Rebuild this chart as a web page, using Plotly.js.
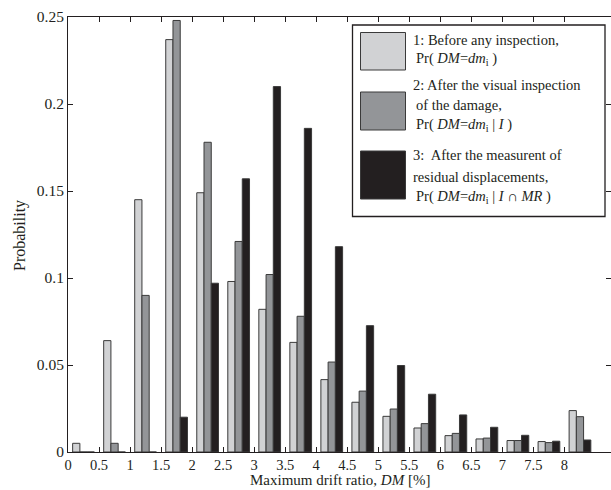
<!DOCTYPE html>
<html>
<head>
<meta charset="utf-8">
<script src="https://cdn.plot.ly/plotly-3.0.1.min.js"></script>
<style>html,body{margin:0;padding:0;background:#fff;}#chart{width:611px;height:490px;}</style>
</head>
<body>
<div id="chart"></div>
<script>
// ---- data ----
const groupCenters = [0.25, 0.75, 1.25, 1.75, 2.25, 2.75, 3.25, 3.75, 4.25, 4.75, 5.25, 5.75, 6.25, 6.75, 7.25, 7.75, 8.25];
const beforeInspection = [0.005, 0.064, 0.145, 0.237, 0.149, 0.098, 0.082, 0.063, 0.0416, 0.0286, 0.0205, 0.0138, 0.0094, 0.0075, 0.0066, 0.006, 0.0238];
const afterVisual = [0, 0.005, 0.090, 0.248, 0.178, 0.121, 0.102, 0.078, 0.0517, 0.035, 0.0247, 0.0163, 0.0107, 0.008, 0.0066, 0.0054, 0.0203];
const afterMeasurement = [0, 0, 0, 0.020, 0.097, 0.157, 0.210, 0.186, 0.118, 0.0726, 0.0497, 0.0332, 0.0213, 0.0142, 0.0096, 0.0062, 0.0069];
const xTickVals = [0, 0.5, 1, 1.5, 2, 2.5, 3, 3.5, 4, 4.5, 5, 5.5, 6, 6.5, 7, 7.5, 8];
const xTickText = ['0', '0.5', '1', '1.5', '2', '2.5', '3', '3.5', '4', '4.5', '5', '5.5', '6', '6.5', '7', '7.5', '8'];
const yTickVals = [0, 0.05, 0.1, 0.15, 0.2, 0.25];
const yTickText = ['0', '0.05', '0.1', '0.15', '0.2', '0.25'];
const legendLines = [
  ['1: Before any inspection,', ' Pr( <i>DM</i>=<i>dm</i><sub>i</sub> )'],
  ['2: After the visual inspection', ' of the damage,', ' Pr( <i>DM</i>=<i>dm</i><sub>i</sub> | <i>I</i> )'],
  ['3:  After the measurent of', 'residual displacements,', ' Pr( <i>DM</i>=<i>dm</i><sub>i</sub> | <i>I</i> ∩ <i>MR</i> )']
];

// ---- styles ----
const FONT = '"Liberation Serif", "Times New Roman", Times, serif';
const INK = '#231f20';
const colors = ['#d1d2d4', '#939598', '#231f20'];
const edge = '#3a3a3a';

const W = 611, H = 490, ML = 68, MR = 0, MT = 17, MB = 38;
const PW = W - ML - MR, PH = H - MT - MB;
const px = v => (v - ML) / PW;
const py = v => (H - MB - v) / PH;

function barTrace(y, i) {
  return {
    type: 'bar', x: groupCenters, y: y,
    marker: {color: colors[i], line: {color: edge, width: 1}},
    hoverinfo: 'skip', showlegend: false
  };
}

const data = [barTrace(beforeInspection, 0), barTrace(afterVisual, 1), barTrace(afterMeasurement, 2)];

const shapes = [];
const annotations = [];
// legend box
shapes.push({type: 'rect', xref: 'paper', yref: 'paper', x0: px(352.5), x1: px(605), y0: py(216.5), y1: py(25),
  line: {color: INK, width: 1.3}, fillcolor: '#ffffff', layer: 'above'});
const swatchY = [[32.5, 70], [92, 130], [151, 199]];
swatchY.forEach((s, i) => {
  shapes.push({type: 'rect', xref: 'paper', yref: 'paper', x0: px(360.5), x1: px(405.5), y0: py(s[1]), y1: py(s[0]),
    line: {color: edge, width: 1}, fillcolor: colors[i], layer: 'above'});
});
const lineY = [[40, 59], [85, 105, 125], [155, 177, 197]];
legendLines.forEach((grp, i) => {
  grp.forEach((t, j) => {
    annotations.push({xref: 'paper', yref: 'paper', x: px(t.startsWith(' ') ? 414 : 411), y: py(lineY[i][j]),
      xanchor: 'left', yanchor: 'middle', showarrow: false, text: t.trim(),
      font: {family: FONT, size: 14.5, color: INK}});
  });
});
// axis titles
annotations.push({xref: 'paper', yref: 'paper', x: 0.5, y: py(490), xanchor: 'center', yanchor: 'bottom',
  showarrow: false, text: 'Maximum drift ratio, <i>DM</i> [%]', font: {family: FONT, size: 15, color: INK}});
annotations.push({xref: 'paper', yref: 'paper', x: px(20), y: py(236), xanchor: 'center', yanchor: 'middle',
  showarrow: false, textangle: -90, text: 'Probability', font: {family: FONT, size: 16, color: INK}});

const axisCommon = {
  showline: true, linecolor: INK, linewidth: 1, mirror: 'ticks', ticks: 'inside', ticklen: 5, tickwidth: 1,
  tickcolor: INK, showgrid: false, zeroline: false, tickfont: {family: FONT, size: 14.5, color: INK}, fixedrange: true
};

const layout = {
  width: W, height: H,
  margin: {l: ML, r: MR, t: MT, b: MB, pad: 0},
  paper_bgcolor: '#ffffff', plot_bgcolor: '#ffffff',
  barmode: 'group', bargap: 0.3, bargroupgap: 0,
  showlegend: false,
  xaxis: Object.assign({}, axisCommon, {range: [0, 8.75], tickmode: 'array', tickvals: xTickVals, ticktext: xTickText}),
  yaxis: Object.assign({}, axisCommon, {range: [0, 0.25], tickmode: 'array', tickvals: yTickVals, ticktext: yTickText, tickfont: {family: FONT, size: 15.5, color: INK}}),
  shapes: shapes, annotations: annotations,
  font: {family: FONT, color: INK}
};

Plotly.newPlot('chart', data, layout, {displayModeBar: false, staticPlot: true});
</script>
</body>
</html>
